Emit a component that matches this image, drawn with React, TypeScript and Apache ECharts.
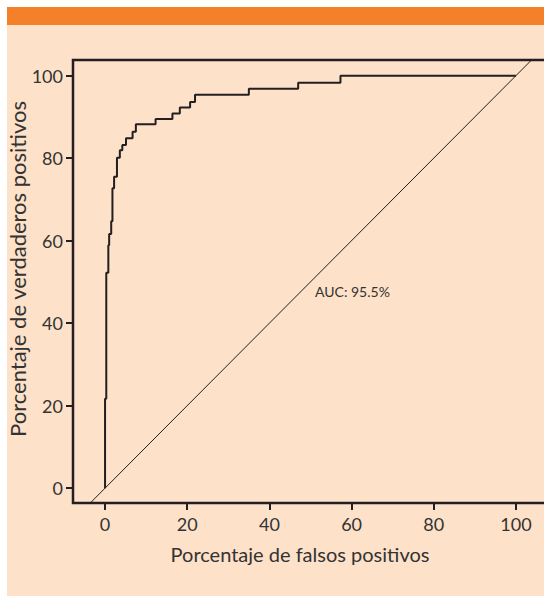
import React, { useEffect, useRef } from "react";
import * as echarts from "echarts";

// ROC curve step points (False positive %, True positive %)
const fpr = [0, 0, 0.3, 0.8, 1.0, 1.5, 1.8, 2.2, 2.9, 3.6, 4.2, 5.1, 6.7, 7.5, 12.3, 16.4, 18.2, 20.7, 21.9, 35.0, 47.0, 57.3, 100];
const tpr = [0, 21.7, 52.2, 58.9, 61.6, 64.7, 72.7, 75.5, 80.1, 81.9, 83.2, 84.8, 86.4, 88.2, 89.5, 90.8, 92.3, 93.6, 95.4, 96.8, 98.3, 100, 100];
// Reference (chance) diagonal
const diagX = [-10, 120];
const diagY = [-10, 120];
const tickValues = [0, 20, 40, 60, 80, 100];
const xTitle = "Porcentaje de falsos positivos";
const yTitle = "Porcentaje de verdaderos positivos";
const aucLabel = "AUC: 95.5%";

const FONT = "Lato";
const DARK = "#231f20";
const TEXT = "#333333";

export default function App() {
  const ref = useRef<HTMLDivElement>(null);
  useEffect(() => {
    if (!ref.current) return;
    const chart = echarts.init(ref.current, null, { renderer: "svg" });
    const roc = fpr.map((x, i) => [x, tpr[i]]);
    const diag = diagX.map((x, i) => [x, diagY[i]]);
    chart.setOption({
      animation: false,
      graphic: [
        { type: "rect", shape: { x: 7, y: 7, width: 537, height: 18 }, style: { fill: "#f4802a" }, z: -10 },
        { type: "rect", shape: { x: 7, y: 25, width: 537, height: 571 }, style: { fill: "#fde1c8" }, z: -10 },
        {
          type: "text",
          x: 300,
          y: 554,
          style: { text: xTitle, font: `20px ${FONT}`, fill: TEXT, textAlign: "center", textVerticalAlign: "middle" },
        },
        {
          type: "text",
          x: 17,
          y: 269,
          rotation: Math.PI / 2,
          style: { text: yTitle, font: `22px ${FONT}`, fill: TEXT, textAlign: "center", textVerticalAlign: "middle" },
        },
        {
          type: "text",
          x: 315,
          y: 291,
          style: { text: aucLabel, font: `14px ${FONT}`, fill: TEXT, textAlign: "left", textVerticalAlign: "middle" },
        },
      ],
      grid: {
        left: 73,
        top: 60,
        bottom: 94,
        right: 13,
        show: true,
        borderColor: DARK,
        borderWidth: 2.5,
        backgroundColor: "transparent",
      },
      xAxis: {
        type: "value",
        min: -7.8,
        max: 110,
        axisLine: { show: false, onZero: false },
        splitLine: { show: false },
        axisTick: { show: true, length: 7, lineStyle: { color: DARK, width: 2 }, customValues: tickValues },
        axisLabel: { customValues: tickValues, margin: 12, fontSize: 18, fontFamily: FONT, color: TEXT },
      },
      yAxis: {
        type: "value",
        min: -3.6,
        max: 103.8,
        axisLine: { show: false, onZero: false },
        splitLine: { show: false },
        axisTick: { show: true, length: 7, lineStyle: { color: DARK, width: 2 }, customValues: tickValues },
        axisLabel: { customValues: tickValues, margin: 10, fontSize: 18, fontFamily: FONT, color: TEXT },
      },
      series: [
        {
          type: "line",
          data: diag,
          showSymbol: false,
          clip: true,
          lineStyle: { color: DARK, width: 1 },
          silent: true,
        },
        {
          type: "line",
          data: roc,
          step: "end",
          showSymbol: false,
          clip: true,
          lineStyle: { color: DARK, width: 2 },
          silent: true,
        },
      ],
    });
    return () => chart.dispose();
  }, []);
  return (
    <div style={{ position: "absolute", left: 0, top: 0, width: 544, height: 597, overflow: "hidden" }}>
      <div ref={ref} style={{ position: "absolute", left: 0, top: 0, width: 570, height: 597 }} />
    </div>
  );
}
